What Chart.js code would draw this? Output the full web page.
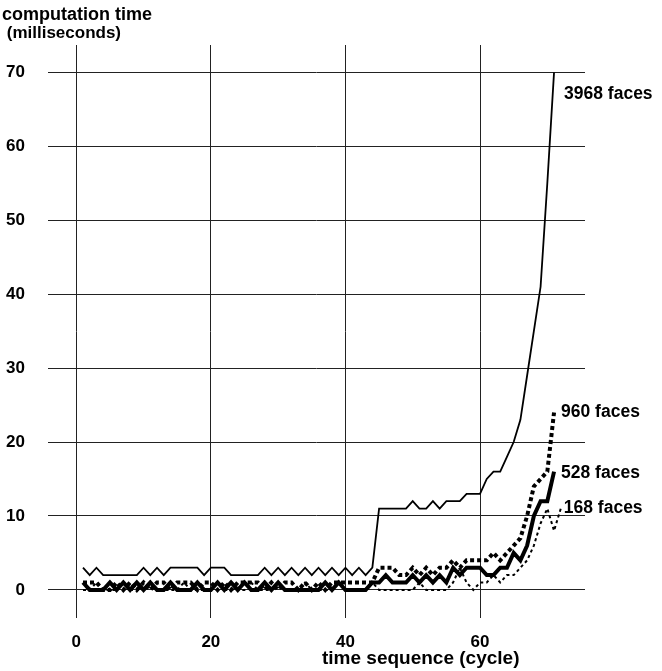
<!DOCTYPE html>
<html>
<head>
<meta charset="utf-8">
<script src="https://cdn.jsdelivr.net/npm/chart.js@4/dist/chart.umd.min.js"></script>
<style>
  html, body { margin: 0; padding: 0; background: #fff; }
  #wrap { width: 662px; height: 671px; }
</style>
</head>
<body>
<div id="wrap"><canvas id="c" width="662" height="671"></canvas></div>
<script>
// Cycle index (x) for every sample
const cycles = [1,2,3,4,5,6,7,8,9,10,11,12,13,14,15,16,17,18,19,20,
  21,22,23,24,25,26,27,28,29,30,31,32,33,34,35,36,37,38,39,40,
  41,42,43,44,45,46,47,48,49,50,51,52,53,54,55,56,57,58,59,60,
  61,62,63,64,65,66,67,68,69,70,71,72];

// Computation time in milliseconds, one value per cycle
const faces3968 = [3,2,3,2,2,2,2,2,2,3,2,3,2,3,3,3,3,3,2,3,
  3,3,2,2,2,2,2,3,2,3,2,3,2,3,2,3,2,3,2,3,
  2,3,2,3,11,11,11,11,11,12,11,11,12,11,12,12,12,13,13,13,
  15,16,16,18,20,23,29,35,41,55,70];
const faces960 = [1,1,1,0,0,1,0,1,0,1,0,1,1,0,1,1,1,0,1,1,
  0,1,0,1,1,1,1,0,1,0,1,1,0,1,0,1,0,1,1,1,
  1,1,1,1,3,3,3,2,2,3,2,3,2,3,3,4,3,4,4,4,
  4,5,4,5,6,7,10,14,15,16,24];
const faces528 = [1,0,0,0,1,0,1,0,1,0,1,0,0,1,0,0,0,1,0,0,
  1,0,1,0,1,0,0,1,0,1,0,0,0,0,0,0,1,0,1,0,
  0,0,0,1,1,2,1,1,1,2,1,2,1,2,1,3,2,3,3,3,
  2,2,3,3,5,4,6,10,12,12,16];
const faces168 = [0,0,1,0,0,0,1,0,0,0,1,0,0,0,0,1,0,0,0,0,
  1,0,0,0,0,1,0,0,0,1,0,0,0,1,0,0,0,0,1,0,
  0,0,0,1,0,0,0,0,0,0,1,0,0,0,0,1,3,1,0,1,
  1,2,1,2,2,3,4,6,9,11,8,11];

const seriesNames = ['3968 faces', '960 faces', '528 faces', '168 faces'];
const xTickValues = [0, 20, 40, 60];
const yTickValues = [0, 10, 20, 30, 40, 50, 60, 70];
const yTitleLines = ['computation time', ' (milliseconds)'];
const xTitle = 'time sequence (cycle)';

const FONT = "'Liberation Sans', Arial, Helvetica, sans-serif";

function toPoints(values) {
  return values.map((v, i) => ({ x: cycles[i], y: v }));
}

// Where each series name sits relative to the last point of its line
const nameOffsets = [[10, 27], [7, 5], [7, 6], [3, 4]];

const textPlugin = {
  id: 'plotText',
  afterDraw(chart) {
    const ctx = chart.ctx;
    ctx.save();
    ctx.fillStyle = '#000';
    ctx.textAlign = 'left';
    ctx.textBaseline = 'alphabetic';
    // y axis title, top-left
    ctx.font = 'bold 18px ' + FONT;
    ctx.fillText(yTitleLines[0], 2, 20);
    ctx.font = 'bold 17px ' + FONT;
    ctx.fillText(yTitleLines[1], 2, 38);
    // x axis title, under the ticks
    ctx.font = 'bold 19px ' + FONT;
    ctx.fillText(xTitle, 322, 664);
    // series names at the end of each line
    ctx.font = 'bold 17.5px ' + FONT;
    chart.data.datasets.forEach((ds, i) => {
      const meta = chart.getDatasetMeta(i);
      const last = meta.data[meta.data.length - 1];
      ctx.fillText(ds.label, last.x + nameOffsets[i][0], last.y + nameOffsets[i][1]);
    });
    ctx.restore();
  }
};

const tickFont = { family: FONT, size: 17, weight: 'bold' };

new Chart(document.getElementById('c'), {
  type: 'line',
  data: {
    datasets: [
      { label: seriesNames[0], data: toPoints(faces3968), borderColor: '#000', borderWidth: 1.8 },
      { label: seriesNames[1], data: toPoints(faces960), borderColor: '#000', borderWidth: 4, borderDash: [4, 3] },
      { label: seriesNames[2], data: toPoints(faces528), borderColor: '#000', borderWidth: 4 },
      { label: seriesNames[3], data: toPoints(faces168), borderColor: '#000', borderWidth: 2, borderDash: [3, 3] }
    ]
  },
  options: {
    responsive: false,
    devicePixelRatio: 1,
    animation: false,
    layout: { padding: { top: 45, right: 77, left: 0, bottom: 0 } },
    plugins: { legend: { display: false }, tooltip: { enabled: false }, title: { display: false } },
    elements: { point: { radius: 0 }, line: { tension: 0, borderCapStyle: 'butt', borderJoinStyle: 'miter' } },
    scales: {
      x: {
        type: 'linear',
        min: -4.2,
        max: 75.6,
        afterBuildTicks(s) { s.ticks = xTickValues.map(v => ({ value: v })); },
        afterFit(s) { s.height = 53; },
        grid: { color: '#222', lineWidth: 1, drawTicks: false },
        border: { display: false },
        ticks: { padding: 14, color: '#000', font: tickFont, maxRotation: 0, autoSkip: false }
      },
      y: {
        type: 'linear',
        min: -3.8,
        max: 73.7,
        afterBuildTicks(s) { s.ticks = yTickValues.map(v => ({ value: v })); },
        afterFit(s) { s.width = 48; },
        grid: { color: '#222', lineWidth: 1, drawTicks: false },
        border: { display: false },
        ticks: { padding: 23, color: '#000', font: tickFont, autoSkip: false }
      }
    }
  },
  plugins: [textPlugin]
});
</script>
</body>
</html>
